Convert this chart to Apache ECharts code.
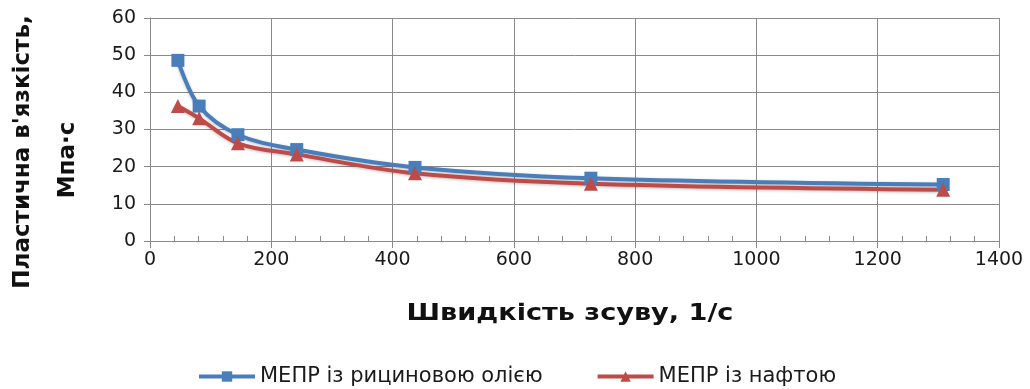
<!DOCTYPE html>
<html><head><meta charset="utf-8">
<script src="https://cdn.jsdelivr.net/npm/echarts@6/dist/echarts.min.js"></script>
<style>html,body{margin:0;padding:0;background:#fff}#c{width:1030px;height:389px}</style>
</head><body><div id="c"></div>
<script>
const shearRate = [46, 81, 145, 242, 437, 727, 1308];
const castorOil = [48.6, 36.3, 28.6, 24.6, 19.8, 16.9, 15.2];
const crudeOil = [36.3, 33.0, 26.3, 23.3, 18.2, 15.4, 13.8];
const seriesNames = ['МЕПР із рициновою олією', 'МЕПР із нафтою'];
const xTitle = 'Швидкість зсуву, 1/с';
const yTitle1 = "Пластична в'язкість,";
const yTitle2 = 'Мпа·с';

const chart = echarts.init(document.getElementById('c'));
const grey = '#8a8a8a';
const tickFont = {fontFamily: 'DejaVu Sans', fontSize: 19, color: '#1a1a1a'};
chart.setOption({
  animation: false,
  grid: {left: 150, right: 31, top: 18, bottom: 148},
  xAxis: [{
    type: 'value', min: 0, max: 1400, interval: 200,
    axisLine: {lineStyle: {color: grey}},
    axisTick: {show: true, inside: false, length: 7, lineStyle: {color: grey}},
    splitLine: {show: true, lineStyle: {color: grey, width: 1}},
    axisLabel: Object.assign({margin: 10, formatter: v => String(v)}, tickFont)
  }, {
    type: 'value', min: 0, max: 1400, interval: 40, position: 'bottom',
    axisLine: {show: false},
    axisTick: {show: true, inside: true, length: 5, lineStyle: {color: grey}},
    splitLine: {show: false}, axisLabel: {show: false}
  }],
  yAxis: {
    type: 'value', min: 0, max: 60, interval: 10,
    axisLine: {show: true, lineStyle: {color: grey}},
    axisTick: {show: true, length: 6, lineStyle: {color: grey}},
    splitLine: {show: true, lineStyle: {color: grey, width: 1}},
    axisLabel: Object.assign({margin: 14, formatter: v => String(v)}, tickFont)
  },
  graphic: [
    {type: 'text', x: 23, y: 152, rotation: Math.PI / 2,
     style: {text: yTitle1, font: 'bold 23px "DejaVu Sans"', fill: '#111', align: 'center', verticalAlign: 'middle'}},
    {type: 'text', x: 68, y: 160, rotation: Math.PI / 2,
     style: {text: yTitle2, font: 'bold 23px "DejaVu Sans"', fill: '#111', align: 'center', verticalAlign: 'middle'}},
    {type: 'text', x: 570, y: 314, scaleX: 1.18,
     style: {text: xTitle, font: 'bold 23px "DejaVu Sans"', fill: '#111', align: 'center', verticalAlign: 'middle'}}
  ],
  legend: {
    top: 361, left: 192, itemWidth: 56, itemHeight: 13, itemGap: 53,
    lineStyle: {width: 4, shadowBlur: 0},
    textStyle: {fontFamily: 'DejaVu Sans', fontSize: 21, color: '#1a1a1a'},
    data: seriesNames
  },
  series: [{
    name: seriesNames[0], type: 'line', smooth: 0.35, xAxisIndex: 0,
    data: shearRate.map((x, i) => [x, castorOil[i]]),
    symbol: 'rect', symbolSize: 13,
    lineStyle: {color: '#4a7ebb', width: 4, shadowColor: 'rgba(0,0,0,0.25)', shadowBlur: 3, shadowOffsetY: 1},
    itemStyle: {color: '#4a7ebb'}
  }, {
    name: seriesNames[1], type: 'line', smooth: 0.35, xAxisIndex: 0,
    data: shearRate.map((x, i) => [x, crudeOil[i]]),
    symbol: 'triangle', symbolSize: 14,
    lineStyle: {color: '#be4b48', width: 4, shadowColor: 'rgba(0,0,0,0.25)', shadowBlur: 3, shadowOffsetY: 1},
    itemStyle: {color: '#be4b48'}
  }]
});
</script></body></html>
